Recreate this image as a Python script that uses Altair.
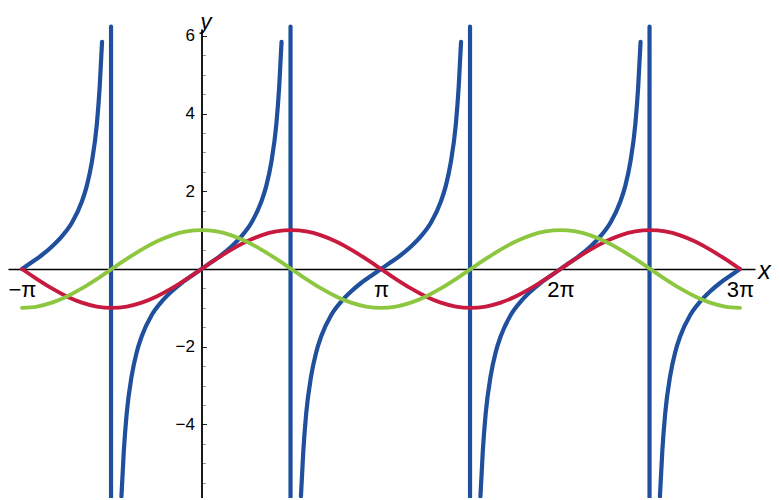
import altair as alt
import pandas as pd

# ---------------- data (x in units of pi) ----------------
trig_x = [i / 12 for i in range(-12, 37)]  # -pi .. 3pi, every 15 degrees
sin_y = [0, -0.259, -0.5, -0.707, -0.866, -0.966, -1, -0.966, -0.866, -0.707, -0.5, -0.259,
         0, 0.259, 0.5, 0.707, 0.866, 0.966, 1, 0.966, 0.866, 0.707, 0.5, 0.259,
         0, -0.259, -0.5, -0.707, -0.866, -0.966, -1, -0.966, -0.866, -0.707, -0.5, -0.259,
         0, 0.259, 0.5, 0.707, 0.866, 0.966, 1, 0.966, 0.866, 0.707, 0.5, 0.259, 0]
cos_y = [-1, -0.966, -0.866, -0.707, -0.5, -0.259, 0, 0.259, 0.5, 0.707, 0.866, 0.966,
         1, 0.966, 0.866, 0.707, 0.5, 0.259, 0, -0.259, -0.5, -0.707, -0.866, -0.966,
         -1, -0.966, -0.866, -0.707, -0.5, -0.259, 0, 0.259, 0.5, 0.707, 0.866, 0.966,
         1, 0.966, 0.866, 0.707, 0.5, 0.259, 0, -0.259, -0.5, -0.707, -0.866, -0.966, -1]

# tan branches: offsets from branch centre (units of pi) and the values read
tan_offsets = [-0.446, -0.433, -0.417, -0.389, -0.361, -0.333, -0.278, -0.222, -0.167, -0.111, -0.056, 0,
               0.056, 0.111, 0.167, 0.222, 0.278, 0.333, 0.361, 0.389, 0.417, 0.433, 0.446]
tan_values = [-5.85, -4.70, -3.73, -2.75, -2.14, -1.73, -1.19, -0.84, -0.58, -0.36, -0.18, 0,
              0.18, 0.36, 0.58, 0.84, 1.19, 1.73, 2.14, 2.75, 3.73, 4.70, 5.85]
tan_centres = [-1, 0, 1, 2, 3]

# vertical jump segments of the tan plot
jump_x = [-0.504, 0.496, 1.496, 2.496]
jump_top = [6.24, 6.24, 6.24, 6.24]
jump_bottom = [-5.87, -5.87, -5.87, -5.87]

x_tick_vals = [-1, 1, 2, 3]
x_tick_text = ["\u2212\u03c0", "\u03c0", "2\u03c0", "3\u03c0"]
y_tick_vals = [v / 2 for v in range(-11, 13) if v != 0]
y_label_vals = [-4, -2, 2, 4, 6]
y_label_text = ["\u22124", "\u22122", "2", "4", "6"]

BLUE = "#1f4f9d"
RED = "#c81a3f"
GREEN = "#8dc63f"

# ---------------- frames ----------------
sin_df = pd.DataFrame({"x": trig_x, "y": sin_y})
cos_df = pd.DataFrame({"x": trig_x, "y": cos_y})
rows = []
for k, c in enumerate(tan_centres):
    for o, v in zip(tan_offsets, tan_values):
        if (k == 0 and o < 0) or (k == len(tan_centres) - 1 and o > 0):
            continue
        rows.append({"x": c + o, "y": v, "seg": k})
tan_df = pd.DataFrame(rows)
jump_df = pd.DataFrame({"x": jump_x, "y": jump_bottom, "y2": jump_top})

# ---------------- scales / axes ----------------
W, H = 747, 469
X_DOMAIN = [-1.078, 3.0836]
Y_DOMAIN = [-5.894, 6.178]
px0 = (0 - X_DOMAIN[0]) / (X_DOMAIN[1] - X_DOMAIN[0]) * W
py0 = (Y_DOMAIN[1] - 0) / (Y_DOMAIN[1] - Y_DOMAIN[0]) * H


def label_expr(vals, texts):
    expr = "''"
    for v, t in reversed(list(zip(vals, texts))):
        expr = f"datum.value == {v} ? '{t}' : ({expr})"
    return expr


x_axis = alt.Axis(
    orient="bottom", offset=-(H - py0), values=x_tick_vals,
    labelExpr=label_expr(x_tick_vals, x_tick_text),
    ticks=False, grid=False, domainColor="black", domainWidth=1.5,
    labelFont="Liberation Sans", labelFontSize=22, labelColor="black",
    labelPadding=10, labelFlush=False, labelOverlap=False,
    title="x", titleFont="Liberation Sans", titleFontStyle="italic",
    titleFontWeight="normal", titleFontSize=25, titleColor="black",
    titleX=756, titleY=1, titleAlign="center", titleBaseline="middle",
    titleAngle=0, zindex=0,
)
y_axis = alt.Axis(
    orient="left", offset=-px0, values=y_tick_vals,
    labelExpr=label_expr(y_label_vals, y_label_text),
    grid=False, domainColor="black", domainWidth=1.8,
    tickSize=alt.ExprRef(expr="datum.value % 2 === 0 ? -5 : -4"),
    tickColor=alt.ExprRef(expr="datum.value % 2 === 0 ? '#222222' : '#999999'"),
    tickWidth=1,
    labelFont="Liberation Sans", labelFontSize=17, labelColor="black",
    labelPadding=12, labelFlush=False, labelOverlap=False,
    title="y", titleFont="Liberation Sans", titleFontStyle="italic",
    titleFontWeight="normal", titleFontSize=22, titleColor="black",
    titleX=4, titleY=-8, titleAlign="center", titleBaseline="middle",
    titleAngle=0, zindex=0,
)

xs = alt.Scale(domain=X_DOMAIN, nice=False, zero=False)
ys = alt.Scale(domain=Y_DOMAIN, nice=False, zero=False)
X = alt.X("x:Q", scale=xs, axis=x_axis)
Y = alt.Y("y:Q", scale=ys, axis=y_axis)

tan_layer = alt.Chart(tan_df).mark_line(
    color=BLUE, strokeWidth=4.2, interpolate="monotone", strokeCap="round", clip=False
).encode(x=X, y=Y, detail="seg:N", order="x:Q")

jump_layer = alt.Chart(jump_df).mark_rule(
    color=BLUE, strokeWidth=4.2, strokeCap="round"
).encode(x=X, y=Y, y2="y2:Q")

sin_layer = alt.Chart(sin_df).mark_line(
    color=RED, strokeWidth=3.8, interpolate="monotone", strokeCap="round"
).encode(x=X, y=Y)

cos_layer = alt.Chart(cos_df).mark_line(
    color=GREEN, strokeWidth=3.8, interpolate="monotone", strokeCap="round"
).encode(x=X, y=Y)

chart = alt.layer(tan_layer, jump_layer, sin_layer, cos_layer).properties(
    width=W, height=H,
    autosize=alt.AutoSizeParams(type="none"),
    padding={"left": 0, "top": 21, "right": 17, "bottom": 0},
    background="white",
).configure_view(stroke=None)

chart.save("out.html", embed_options={"renderer": "svg", "actions": False})
